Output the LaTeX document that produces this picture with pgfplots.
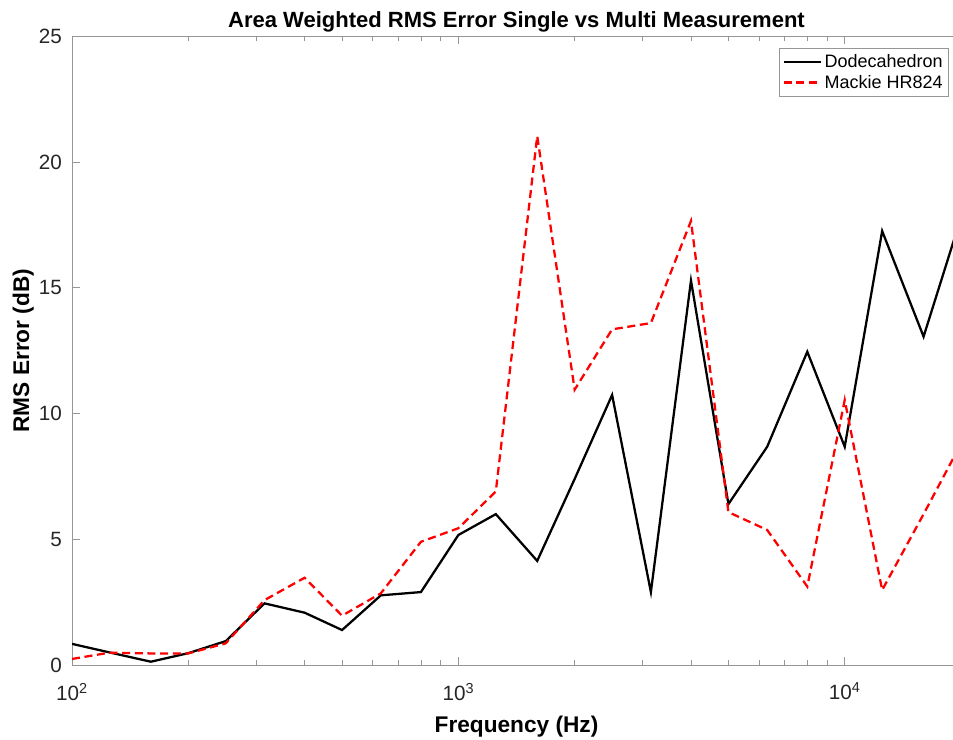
\documentclass[border=0pt]{standalone}
\usepackage{pgfplots}
\pgfplotsset{compat=1.18}
\usepackage{fontspec}
\setmainfont{Liberation Sans}

\definecolor{axgray}{RGB}{150,150,150}
\definecolor{txtgray}{RGB}{38,38,38}

\pgfplotstableread{
f      dodec  mackie
100    0.84   0.24
125    0.50   0.49
160    0.13   0.46
200    0.47   0.46
250    0.95   0.86
315    2.45   2.58
400    2.08   3.47
500    1.39   1.96
630    2.77   2.85
800    2.90   4.90
1000   5.17   5.44
1250   6.00   6.90
1600   4.14   21.04
2000   7.40   10.95
2500   10.74  13.35
3150   2.90   13.60
4000   15.29  17.66
5000   6.40   6.08
6300   8.68   5.37
8000   12.46  3.12
10000  8.68   10.54
12500  17.26  2.98
16000  13.06  6.00
20000  17.80  8.80
}\rmsdata

\begin{document}
\begin{tikzpicture}
\begin{axis}[
    xmode=log,
    scale only axis,
    width=666.75pt,
    height=471.4pt,
    xmin=100, xmax=20000,
    ymin=0, ymax=25,
    ytick={0,5,10,15,20,25},
    xtick={100,1000,10000},
    xticklabels={10\textsuperscript{2},10\textsuperscript{3},10\textsuperscript{4}},
    /pgf/number format/assume math mode=true,
    axis line style={axgray, line width=0.6pt},
    tick style={axgray, line width=0.6pt},
    major tick length=6pt,
    minor tick length=3.5pt,
    tick align=inside,
    ticklabel style={font=\fontsize{15.5}{18}\selectfont, text=txtgray},
    xticklabel style={yshift=-10pt},
    yticklabel style={xshift=-4pt},
    title={Area Weighted RMS Error Single vs Multi Measurement},
    title style={font=\fontsize{16.5}{20}\selectfont\bfseries, yshift=-6.5pt},
    xlabel={Frequency (Hz)},
    ylabel={RMS Error (dB)},
    label style={font=\fontsize{17}{20}\selectfont\bfseries},
    xlabel style={yshift=-5pt},
    ylabel style={yshift=-3pt},
    legend cell align=left,
    legend style={at={(1,1)}, anchor=north east, xshift=-9pt, yshift=-9pt,
        draw=axgray, font=\fontsize{13.5}{16}\selectfont, inner sep=2.5pt,
        row sep=0pt},
    legend image code/.code={\draw[#1] (0pt,0pt) -- (28pt,0pt);},
]
\addplot[black, line width=1.7pt] table[x=f, y=dodec] {\rmsdata};
\addlegendentry{Dodecahedron}
\addplot[red, line width=1.7pt, dash pattern=on 6pt off 3.5pt] table[x=f, y=mackie] {\rmsdata};
\addlegendentry{Mackie HR824}
\coordinate (BBsw) at (rel axis cs:-0.081,-0.119);
\coordinate (BBne) at (rel axis cs:0.991,1.058);
\end{axis}
\pgfresetboundingbox
\useasboundingbox (BBsw) rectangle (BBne);
\end{tikzpicture}
\end{document}
